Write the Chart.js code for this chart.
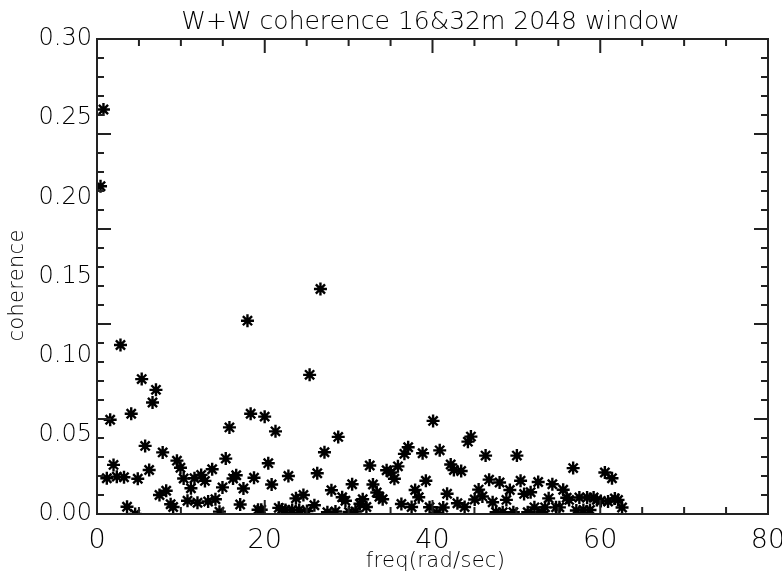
<!DOCTYPE html>
<html>
<head>
<meta charset="utf-8">
<script src="https://cdn.jsdelivr.net/npm/chart.js@4"></script>
<style>
  html, body { margin: 0; padding: 0; background: #fff; }
  #wrap { width: 782px; height: 575px; }
</style>
</head>
<body>
<div id="wrap"><canvas id="c" width="782" height="575"></canvas></div>
<script>
// ---- data ----
const freq = [
  0.42, 0.77, 1.17, 1.57, 1.97, 2.36, 2.80, 3.22, 3.58, 4.08,
  4.55, 4.86, 5.33, 5.74, 6.22, 6.62, 7.03, 7.45, 7.83, 8.25,
  8.78, 9.08, 9.53, 9.95, 10.33, 10.79, 11.20, 11.62, 11.98, 12.42,
  12.87, 13.25, 13.73, 14.12, 14.60, 14.96, 15.35, 15.79, 16.22, 16.60,
  17.07, 17.46, 17.94, 18.32, 18.72, 19.20, 19.58, 19.99, 20.42, 20.82,
  21.28, 21.67, 22.05, 22.47, 22.82, 23.27, 23.72, 24.11, 24.61, 25.03,
  25.35, 25.92, 26.26, 26.64, 27.12, 27.47, 27.95, 28.43, 28.76, 29.23,
  29.62, 30.04, 30.42, 30.81, 31.35, 31.68, 32.12, 32.52, 32.90, 33.35,
  33.67, 34.06, 34.53, 35.04, 35.46, 35.88, 36.29, 36.65, 37.10, 37.51,
  37.93, 38.36, 38.82, 39.21, 39.65, 40.07, 40.49, 40.86, 41.28, 41.74,
  42.17, 42.55, 42.97, 43.42, 43.83, 44.22, 44.58, 45.03, 45.50, 45.95,
  46.33, 46.75, 47.17, 47.58, 48.00, 48.37, 48.81, 49.22, 49.64, 50.06,
  50.50, 50.92, 51.35, 51.70, 52.15, 52.60, 53.02, 53.42, 53.85, 54.29,
  54.73, 55.13, 55.58, 56.00, 56.29, 56.77, 57.15, 57.51, 57.99, 58.43,
  58.78, 59.21, 59.60, 60.07, 60.55, 60.93, 61.40, 61.74, 62.12, 62.60
];
const coherence = [
  0.2070, 0.2555, 0.0226, 0.0595, 0.0310, 0.0236, 0.1067, 0.0232, 0.0046, 0.0633,
  0.0000, 0.0223, 0.0852, 0.0430, 0.0278, 0.0704, 0.0784, 0.0120, 0.0389, 0.0147,
  0.0062, 0.0044, 0.0337, 0.0292, 0.0224, 0.0084, 0.0163, 0.0226, 0.0071, 0.0247,
  0.0209, 0.0079, 0.0283, 0.0093, 0.0015, 0.0168, 0.0350, 0.0547, 0.0224, 0.0245,
  0.0060, 0.0161, 0.1221, 0.0633, 0.0229, 0.0027, 0.0027, 0.0615, 0.0321, 0.0186,
  0.0522, 0.0039, 0.0028, 0.0025, 0.0240, 0.0025, 0.0099, 0.0025, 0.0120, 0.0019,
  0.0879, 0.0055, 0.0257, 0.1421, 0.0390, 0.0011, 0.0150, 0.0016, 0.0487, 0.0106,
  0.0084, 0.0013, 0.0188, 0.0016, 0.0065, 0.0093, 0.0044, 0.0306, 0.0186, 0.0136,
  0.0109, 0.0093, 0.0276, 0.0262, 0.0223, 0.0301, 0.0063, 0.0380, 0.0422, 0.0044,
  0.0152, 0.0106, 0.0384, 0.0210, 0.0043, 0.0588, 0.0009, 0.0402, 0.0041, 0.0128,
  0.0313, 0.0278, 0.0068, 0.0272, 0.0044, 0.0457, 0.0489, 0.0092, 0.0154, 0.0111,
  0.0369, 0.0217, 0.0074, 0.0011, 0.0199, 0.0011, 0.0089, 0.0152, 0.0011, 0.0369,
  0.0210, 0.0127, 0.0011, 0.0137, 0.0042, 0.0202, 0.0011, 0.0042, 0.0099, 0.0188,
  0.0042, 0.0042, 0.0153, 0.0103, 0.0089, 0.0290, 0.0022, 0.0104, 0.0025, 0.0104,
  0.0025, 0.0104, 0.0089, 0.0082, 0.0262, 0.0079, 0.0226, 0.0098, 0.0089, 0.0041
];
const titleText = 'W+W coherence 16&32m 2048 window';
const xTitle = 'freq(rad/sec)';
const yTitle = 'coherence';
const xRange = [0, 80];
const yRange = [0, 0.30];
const xMajor = 20, xMinor = 5;
const yMajorCount = 6, yMinorPerMajor = 5;

const FONT = 'DejaVu Sans';
const WEIGHT = '200';

// inward IDL-style ticks, frame and titles, positioned via the chart scales
const frameTicks = {
  id: 'frameTicks',
  afterDatasetsDraw(chart) {
    const { ctx, chartArea: a, scales: { x, y } } = chart;
    ctx.save();
    ctx.strokeStyle = '#222';
    ctx.lineWidth = 2;
    ctx.strokeRect(a.left, a.top, a.right - a.left, a.bottom - a.top);
    ctx.beginPath();
    const nx = (xRange[1] - xRange[0]) / xMinor;
    for (let i = 0; i <= nx; i++) {
      const v = xRange[0] + i * xMinor;
      const px = x.getPixelForValue(v);
      const len = (i % (xMajor / xMinor) === 0) ? 14 : 7;
      ctx.moveTo(px, a.bottom); ctx.lineTo(px, a.bottom - len);
      ctx.moveTo(px, a.top); ctx.lineTo(px, a.top + len);
    }
    const ny = (yMajorCount - 1) * yMinorPerMajor;
    for (let i = 0; i <= ny; i++) {
      const v = yRange[0] + (yRange[1] - yRange[0]) * i / ny;
      const py = y.getPixelForValue(v);
      const len = (i % yMinorPerMajor === 0) ? 14 : 7;
      ctx.moveTo(a.left, py); ctx.lineTo(a.left + len, py);
      ctx.moveTo(a.right, py); ctx.lineTo(a.right - len, py);
    }
    ctx.stroke();

    // titles
    ctx.fillStyle = '#000';
    ctx.textAlign = 'center';
    ctx.font = `${WEIGHT} 25px "${FONT}"`;
    ctx.letterSpacing = '0px';
    ctx.textBaseline = 'alphabetic';
    ctx.fillText(titleText, (a.left + a.right) / 2 - 2, 29);

    ctx.font = `${WEIGHT} 21px "${FONT}"`;
    ctx.letterSpacing = '0.3px';
    ctx.textBaseline = 'middle';
    ctx.fillText(xTitle, (a.left + a.right) / 2 + 3, 562);

    ctx.translate(18, (a.top + a.bottom) / 2 + 9);
    ctx.rotate(-Math.PI / 2);
    ctx.fillText(yTitle, 0, 0);
    ctx.restore();
  }
};

new Chart(document.getElementById('c'), {
  type: 'scatter',
  data: {
    datasets: [{
      data: freq.map((f, i) => ({ x: f, y: coherence[i] })),
      pointStyle: 'star',
      radius: 6.5,
      borderWidth: 2.4,
      borderColor: '#000',
      backgroundColor: '#000',
      clip: 0
    }]
  },
  options: {
    responsive: false,
    animation: false,
    devicePixelRatio: 1,
    layout: { padding: { left: 0, right: 14, top: 39, bottom: 0 } },
    plugins: {
      legend: { display: false },
      tooltip: { enabled: false },
      title: { display: false }
    },
    scales: {
      x: {
        type: 'linear',
        min: xRange[0], max: xRange[1],
        grid: { display: false, drawTicks: false },
        border: { display: false },
        ticks: { stepSize: xMajor, color: '#000', padding: 11, maxRotation: 0,
                 font: { family: FONT, size: 27, weight: WEIGHT } },
        title: { display: false },
        afterFit(s) { s.height = 61; s.paddingLeft = 0; s.paddingRight = 0; }
      },
      y: {
        type: 'linear',
        min: yRange[0], max: yRange[1],
        grid: { display: false, drawTicks: false },
        border: { display: false },
        ticks: { stepSize: 0.05, color: '#000', padding: 5,
                 font: { family: FONT, size: 24, weight: WEIGHT },
                 callback: v => v.toFixed(2) },
        title: { display: false },
        afterFit(s) { s.width = 97; s.paddingTop = 0; s.paddingBottom = 0; }
      }
    }
  },
  plugins: [frameTicks]
});
</script>
</body>
</html>
